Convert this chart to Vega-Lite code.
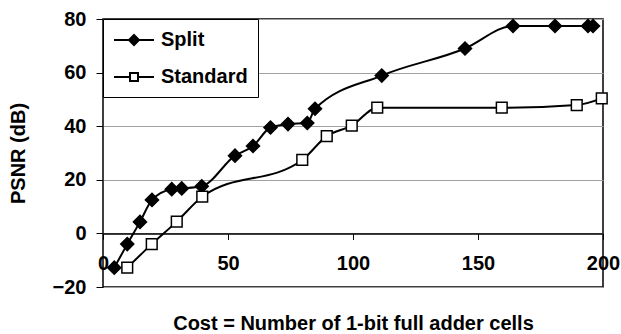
{
  "$schema": "https://vega.github.io/schema/vega-lite/v6.json",
  "width": 500,
  "height": 268,
  "autosize": "none",
  "padding": {"left": 103, "top": 19, "right": 18, "bottom": 47},
  "background": "white",
  "config": {
    "font": "Liberation Sans",
    "view": {"stroke": "black", "strokeWidth": 1.5},
    "axis": {"labelFont": "Liberation Sans", "titleFont": "Liberation Sans", "labelFontWeight": "bold", "titleFontWeight": "bold", "labelFontSize": 20, "titleFontSize": 20, "labelColor": "black", "titleColor": "black", "tickColor": "black", "domainColor": "black"}
  },
  "data": {
    "values": [
      {"series": "Split", "cost": 4.5, "psnr": -12.8},
      {"series": "Split", "cost": 9.7, "psnr": -4},
      {"series": "Split", "cost": 14.8, "psnr": 4.3},
      {"series": "Split", "cost": 19.6, "psnr": 12.5},
      {"series": "Split", "cost": 27.5, "psnr": 16.5},
      {"series": "Split", "cost": 31.5, "psnr": 16.8},
      {"series": "Split", "cost": 39.5, "psnr": 17.6},
      {"series": "Split", "cost": 52.8, "psnr": 29},
      {"series": "Split", "cost": 60, "psnr": 32.6},
      {"series": "Split", "cost": 67, "psnr": 39.5},
      {"series": "Split", "cost": 74, "psnr": 40.8},
      {"series": "Split", "cost": 81.7, "psnr": 41.2},
      {"series": "Split", "cost": 84.8, "psnr": 46.5},
      {"series": "Split", "cost": 111.5, "psnr": 58.9},
      {"series": "Split", "cost": 144.8, "psnr": 69},
      {"series": "Split", "cost": 164, "psnr": 77.4},
      {"series": "Split", "cost": 180.8, "psnr": 77.4},
      {"series": "Split", "cost": 194, "psnr": 77.4},
      {"series": "Split", "cost": 196, "psnr": 77.4},
      {"series": "Standard", "cost": 9.7, "psnr": -12.8},
      {"series": "Standard", "cost": 19.5, "psnr": -4},
      {"series": "Standard", "cost": 29.5, "psnr": 4.4},
      {"series": "Standard", "cost": 39.7, "psnr": 13.7},
      {"series": "Standard", "cost": 79.7, "psnr": 27.4},
      {"series": "Standard", "cost": 89.5, "psnr": 36.3},
      {"series": "Standard", "cost": 99.5, "psnr": 40.2},
      {"series": "Standard", "cost": 109.7, "psnr": 46.9},
      {"series": "Standard", "cost": 159.5, "psnr": 46.9},
      {"series": "Standard", "cost": 189.5, "psnr": 47.9},
      {"series": "Standard", "cost": 199.5, "psnr": 50.4}
    ]
  },
  "encoding": {
    "x": {
      "field": "cost", "type": "quantitative",
      "scale": {"domain": [0, 200], "nice": false, "zero": false},
      "axis": {"values": [0, 50, 100, 150, 200], "grid": false, "offset": -53.6, "domainWidth": 1.5, "tickSize": 6, "labelPadding": 14, "labelFlush": false, "title": "Cost = Number of 1-bit full adder cells", "titlePadding": 40}
    },
    "y": {
      "field": "psnr", "type": "quantitative",
      "scale": {"domain": [-20, 80], "nice": false, "zero": false},
      "axis": {"values": [-20, 0, 20, 40, 60, 80], "grid": true, "gridColor": "#a0a0a0", "gridWidth": 1, "domain": false, "tickSize": 7, "labelPadding": 10, "title": "PSNR (dB)", "titlePadding": 24}
    }
  },
  "layer": [
    {
      "mark": {"type": "line", "interpolate": "monotone", "color": "black", "strokeWidth": 2},
      "encoding": {"detail": {"field": "series", "type": "nominal"}}
    },
    {
      "transform": [{"filter": "datum.series === 'Split'"}],
      "mark": {"type": "point", "filled": true, "shape": "diamond", "size": 170, "fill": "black", "stroke": "black", "strokeWidth": 1.5, "opacity": 1}
    },
    {
      "transform": [{"filter": "datum.series === 'Standard'"}],
      "mark": {"type": "point", "filled": true, "shape": "square", "size": 115, "fill": "white", "stroke": "black", "strokeWidth": 1.5, "opacity": 1}
    },
    {
      "mark": {"type": "point", "filled": true, "size": 0, "opacity": 1, "strokeWidth": 2},
      "encoding": {
        "fill": {"field": "series", "type": "nominal", "scale": {"domain": ["Split", "Standard"], "range": ["black", "white"]}},
        "stroke": {"field": "series", "type": "nominal", "scale": {"domain": ["Split", "Standard"], "range": ["black", "black"]}},
        "shape": {
          "field": "series", "type": "nominal",
          "scale": {"domain": ["Split", "Standard"], "range": ["M-1,0H3M1,-0.5L1.5,0L1,0.5L0.5,0Z", "M-1,0H0.6M1.4,0H3M0.6,-0.4H1.4V0.4H0.6Z"]},
          "legend": {
            "title": null, "orient": "none", "legendX": 0, "legendY": 0,
            "fillColor": "white", "strokeColor": "black", "padding": 10,
            "symbolSize": 400, "symbolOpacity": 1, "symbolStrokeWidth": 2,
            "labelFont": "Liberation Sans", "labelFontWeight": "bold", "labelFontSize": 20, "labelColor": "black",
            "labelOffset": 26, "rowPadding": 16
          }
        }
      }
    }
  ]
}
